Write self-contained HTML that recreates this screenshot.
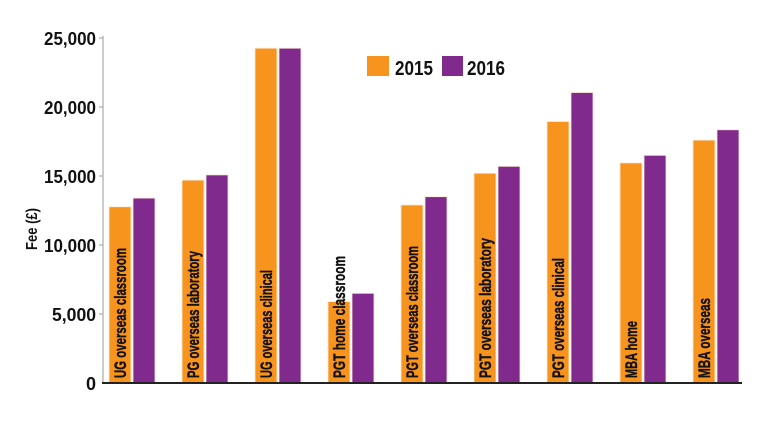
<!DOCTYPE html>
<html><head><meta charset="utf-8"><style>body{margin:0;background:#fff}svg{display:block}text{font-family:"Liberation Sans Narrow","Liberation Sans",sans-serif;font-weight:bold;fill:#111}</style></head><body>
<svg width="780" height="422" viewBox="0 0 780 422">
<g id="bars" stroke="#fbe9d6" stroke-width="0.8"></g>
<line x1="103" y1="36" x2="103" y2="383" stroke="#aaa" stroke-width="1.2"/>
<line x1="102" y1="383" x2="742" y2="383" stroke="#222" stroke-width="2"/>
<g stroke="#aaa" stroke-width="1.2">
<line x1="99" y1="38" x2="103" y2="38"/><line x1="99" y1="107" x2="103" y2="107"/><line x1="99" y1="176" x2="103" y2="176"/><line x1="99" y1="245" x2="103" y2="245"/><line x1="99" y1="314" x2="103" y2="314"/></g>
<g font-size="18" text-anchor="end">
<text x="96" y="45" textLength="52" lengthAdjust="spacingAndGlyphs">25,000</text>
<text x="96" y="114" textLength="52" lengthAdjust="spacingAndGlyphs">20,000</text>
<text x="96" y="183" textLength="52" lengthAdjust="spacingAndGlyphs">15,000</text>
<text x="96" y="252" textLength="52" lengthAdjust="spacingAndGlyphs">10,000</text>
<text x="96" y="321" textLength="44" lengthAdjust="spacingAndGlyphs">5,000</text>
<text x="96" y="390">0</text>
</g>
<text transform="translate(37,229) rotate(-90)" font-size="16" text-anchor="middle" textLength="42" lengthAdjust="spacingAndGlyphs">Fee (£)</text>
<rect x="367" y="56" width="22" height="20" fill="#f7941d"/>
<text x="395" y="75" font-size="20" textLength="38" lengthAdjust="spacingAndGlyphs">2015</text>
<rect x="442" y="56" width="21" height="20" fill="#7f2a8c"/>
<text x="467" y="75" font-size="20" textLength="38" lengthAdjust="spacingAndGlyphs">2016</text>
<g id="labels" font-size="17" stroke="#111" stroke-width="0.4"></g>
<script>
var d=[[12.77,13.4,"UG overseas classroom",130],[14.7,15.08,"PG overseas laboratory",127],[24.26,24.26,"UG overseas clinical",108],[5.9,6.5,"PGT home classroom",122],[12.9,13.5,"PGT overseas classroom",132],[15.2,15.7,"PGT overseas laboratory",140],[18.95,21.05,"PGT overseas clinical",120],[15.95,16.5,"MBA home",57],[17.6,18.35,"MBA overseas",80]];
var b=document.getElementById('bars'),l=document.getElementById('labels'),ns="http://www.w3.org/2000/svg";
d.forEach(function(r,i){var x=109+73*i;[[r[0],"#f7941d",x],[r[1],"#7f2a8c",x+24]].forEach(function(q){var e=document.createElementNS(ns,'rect');var y=383-q[0]*13.8;e.setAttribute('x',q[2]);e.setAttribute('y',y);e.setAttribute('width',22);e.setAttribute('height',383-y);e.setAttribute('fill',q[1]);b.appendChild(e);});
var t=document.createElementNS(ns,'text');t.setAttribute('transform','translate('+(x+17)+',378) rotate(-90)');t.setAttribute('textLength',r[3]);t.setAttribute('lengthAdjust','spacingAndGlyphs');t.textContent=r[2];l.appendChild(t);});
</script>
</svg></body></html>
